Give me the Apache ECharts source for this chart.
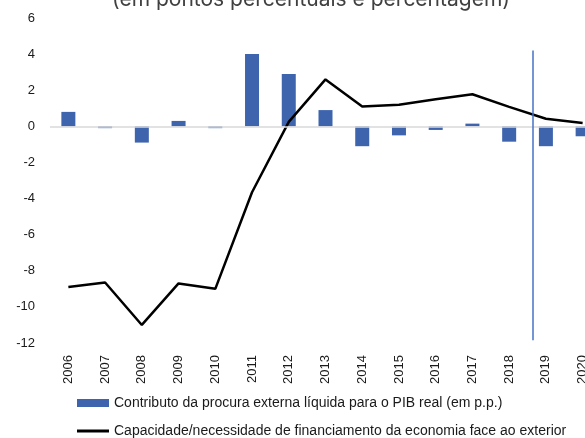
<!DOCTYPE html>
<html>
<head>
<meta charset="utf-8">
<script src="https://cdn.jsdelivr.net/npm/echarts@6/dist/echarts.min.js"></script>
<style>
  html, body { margin: 0; padding: 0; background: #fff; overflow: hidden; }
  /* o grafico original esta cortado a direita: a area continua para la da janela */
  #chart { width: 601px; height: 438px; }
</style>
</head>
<body>
<div id="chart"></div>
<script>
// anos
var years = ['2006', '2007', '2008', '2009', '2010', '2011', '2012', '2013',
  '2014', '2015', '2016', '2017', '2018', '2019', '2020']
// contributo da procura externa liquida (p.p.)
var contributo = [0.8, -0.1, -0.9, 0.3, -0.1, 4.0, 2.9, 0.9,
  -1.1, -0.5, -0.2, 0.15, -0.85, -1.1, -0.55]
// capacidade/necessidade de financiamento (% PIB)
var capacidade = [-8.9, -8.65, -11.0, -8.7, -9.0, -3.65, 0.25, 2.6,
  1.1, 1.2, 1.5, 1.78, 1.08, 0.42, 0.18]
// linha vertical de separacao (posicao entre 2018 e 2019, em indice de categoria)
var separador = { pos: 12.64, top: 4.2, bottom: -11.85 }

var nomeBarra = 'Contributo da procura externa líquida para o PIB real (em p.p.)'
var nomeLinha = 'Capacidade/necessidade de financiamento da economia face ao exterior'

var legendText = { fontFamily: 'Liberation Sans', fontSize: 14, color: '#1a1a1a' }

var chart = echarts.init(document.getElementById('chart'))

var option = {
  animation: false,
  title: {
    text: '(em pontos percentuais e percentagem)',
    left: 306,
    textAlign: 'center',
    top: -16,
    textStyle: { fontFamily: 'Inter', fontSize: 21, fontWeight: 'normal', color: '#404040' }
  },
  legend: [
    {
      left: 77,
      top: 396,
      padding: 0,
      itemWidth: 32,
      itemHeight: 8,
      itemGap: 4,
      textStyle: legendText,
      data: [{ name: nomeBarra, icon: 'rect' }]
    },
    {
      left: 77,
      top: 424,
      padding: 0,
      itemWidth: 32,
      itemHeight: 3,
      textStyle: legendText,
      data: [{ name: nomeLinha, icon: 'rect', itemStyle: { color: '#000' } }]
    }
  ],
  grid: { left: 50, right: 0, top: 18, bottom: 95 },
  xAxis: [
    {
      type: 'category',
      data: years,
      axisLine: { show: false, onZero: false },
      axisTick: { show: false },
      axisLabel: {
        rotate: 90,
        margin: 12,
        fontFamily: 'Liberation Sans',
        fontSize: 13,
        color: '#1a1a1a'
      }
    },
    {
      // eixo auxiliar (invisivel) para posicionar o separador entre categorias
      type: 'value',
      min: -0.5,
      max: years.length - 0.5,
      show: false
    }
  ],
  yAxis: {
    type: 'value',
    min: -12,
    max: 6,
    interval: 2,
    axisLine: { show: false },
    axisTick: { show: false },
    splitLine: { show: false },
    axisLabel: {
      margin: 15,
      fontFamily: 'Liberation Sans',
      fontSize: 13,
      color: '#1a1a1a'
    }
  },
  series: [
    {
      name: nomeBarra,
      type: 'bar',
      data: contributo,
      barWidth: 14,
      itemStyle: { color: '#3D64AD' },
      markLine: {
        silent: true,
        symbol: 'none',
        label: { show: false },
        lineStyle: { color: '#d9d9d9', type: 'solid', width: 1.5 },
        data: [{ yAxis: 0 }]
      },
      z: 2
    },
    {
      name: nomeLinha,
      type: 'line',
      data: capacidade,
      symbol: 'none',
      lineStyle: { color: '#000', width: 2.5 },
      itemStyle: { color: '#000' },
      z: 3
    },
    {
      name: 'separador',
      type: 'line',
      xAxisIndex: 1,
      data: [],
      silent: true,
      markLine: {
        silent: true,
        symbol: 'none',
        label: { show: false },
        lineStyle: { color: '#4472C4', type: 'solid', width: 1.5 },
        data: [[
          { coord: [separador.pos, separador.top] },
          { coord: [separador.pos, separador.bottom] }
        ]]
      },
      z: 4
    }
  ]
}

chart.setOption(option)
</script>
</body>
</html>
